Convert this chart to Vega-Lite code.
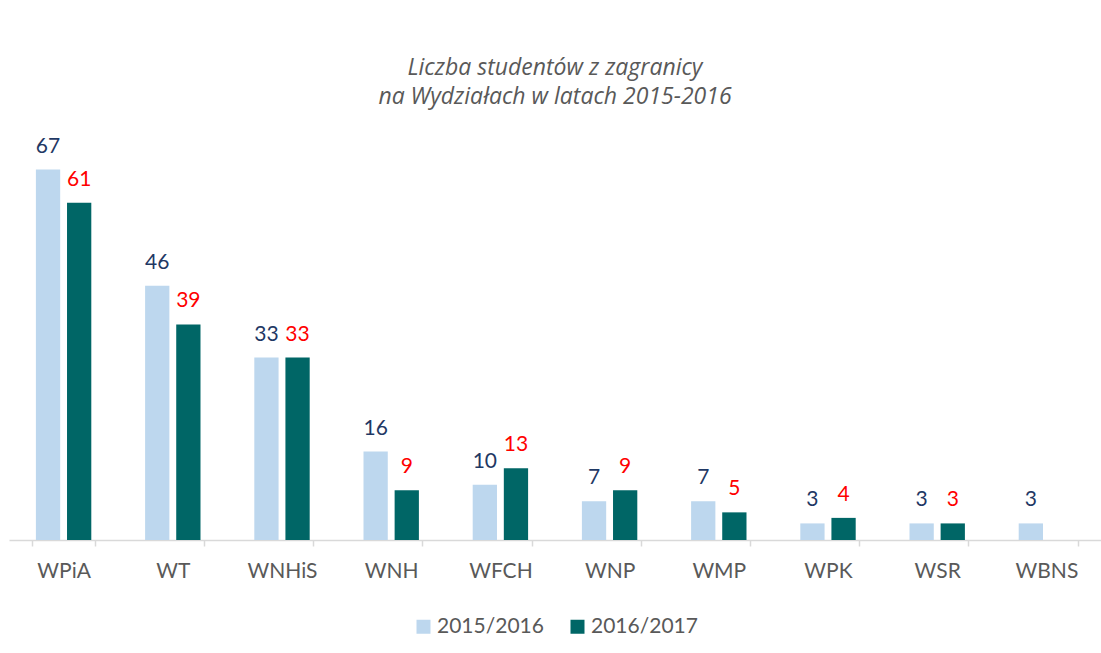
{
  "$schema": "https://vega.github.io/schema/vega-lite/v6.json",
  "autosize": {"type": "none"},
  "padding": {"left": 9, "top": 153, "right": 0, "bottom": 113},
  "width": 1092,
  "height": 387,
  "background": "white",
  "title": {
    "text": ["Liczba studentów z zagranicy", "na Wydziałach w latach 2015-2016"],
    "font": "Open Sans",
    "fontSize": 23,
    "fontStyle": "italic",
    "fontWeight": "normal",
    "color": "#595959",
    "lineHeight": 29,
    "anchor": "middle",
    "frame": "group",
    "offset": 27
  },
  "data": {
    "values": [
      {"wydzial": "WPiA", "rok": "2015/2016", "liczba": 67},
      {"wydzial": "WPiA", "rok": "2016/2017", "liczba": 61},
      {"wydzial": "WT", "rok": "2015/2016", "liczba": 46},
      {"wydzial": "WT", "rok": "2016/2017", "liczba": 39},
      {"wydzial": "WNHiS", "rok": "2015/2016", "liczba": 33},
      {"wydzial": "WNHiS", "rok": "2016/2017", "liczba": 33},
      {"wydzial": "WNH", "rok": "2015/2016", "liczba": 16},
      {"wydzial": "WNH", "rok": "2016/2017", "liczba": 9},
      {"wydzial": "WFCH", "rok": "2015/2016", "liczba": 10},
      {"wydzial": "WFCH", "rok": "2016/2017", "liczba": 13},
      {"wydzial": "WNP", "rok": "2015/2016", "liczba": 7},
      {"wydzial": "WNP", "rok": "2016/2017", "liczba": 9},
      {"wydzial": "WMP", "rok": "2015/2016", "liczba": 7},
      {"wydzial": "WMP", "rok": "2016/2017", "liczba": 5},
      {"wydzial": "WPK", "rok": "2015/2016", "liczba": 3},
      {"wydzial": "WPK", "rok": "2016/2017", "liczba": 4},
      {"wydzial": "WSR", "rok": "2015/2016", "liczba": 3},
      {"wydzial": "WSR", "rok": "2016/2017", "liczba": 3},
      {"wydzial": "WBNS", "rok": "2015/2016", "liczba": 3}
    ]
  },
  "encoding": {
    "x": {
      "field": "wydzial",
      "type": "nominal",
      "sort": ["WPiA", "WT", "WNHiS", "WNH", "WFCH", "WNP", "WMP", "WPK", "WSR", "WBNS"],
      "scale": {"paddingInner": 0.43, "paddingOuter": 0.215},
      "axis": {
        "title": null,
        "labelAngle": 0,
        "labelFont": "Lato",
        "labelFontSize": 21,
        "labelColor": "#595959",
        "labelPadding": 14,
        "domainColor": "#D9D9D9",
        "domainWidth": 1.5,
        "tickColor": "#D9D9D9",
        "tickWidth": 1.5,
        "tickSize": 6,
        "tickBand": "extent"
      }
    },
    "xOffset": {
      "field": "rok",
      "type": "nominal",
      "scale": {"paddingInner": 0.22, "paddingOuter": 0.11}
    },
    "y": {
      "field": "liczba",
      "type": "quantitative",
      "scale": {"domain": [0, 70]},
      "axis": null
    }
  },
  "layer": [
    {
      "mark": {"type": "bar"},
      "encoding": {
        "color": {
          "field": "rok",
          "type": "nominal",
          "scale": {"domain": ["2015/2016", "2016/2017"], "range": ["#BDD7EE", "#006666"]},
          "legend": {
            "title": null,
            "orient": "bottom",
            "direction": "horizontal",
            "symbolType": "square",
            "symbolSize": 196,
            "symbolStrokeWidth": 0,
            "labelFont": "Lato",
            "labelFontSize": 21,
            "labelColor": "#595959",
            "labelOffset": 3,
            "columnPadding": 23,
            "offset": 35
          }
        }
      }
    },
    {
      "mark": {"type": "text", "font": "Lato", "fontSize": 21, "baseline": "alphabetic", "dy": -17},
      "encoding": {
        "text": {"field": "liczba", "type": "quantitative"},
        "fill": {
          "field": "rok",
          "type": "nominal",
          "scale": {"domain": ["2015/2016", "2016/2017"], "range": ["#1F3864", "#FF0000"]},
          "legend": null
        }
      }
    }
  ],
  "resolve": {"scale": {"color": "independent", "fill": "independent"}},
  "config": {
    "view": {"stroke": null},
    "legend": {"layout": {"bottom": {"anchor": "middle"}}}
  }
}
